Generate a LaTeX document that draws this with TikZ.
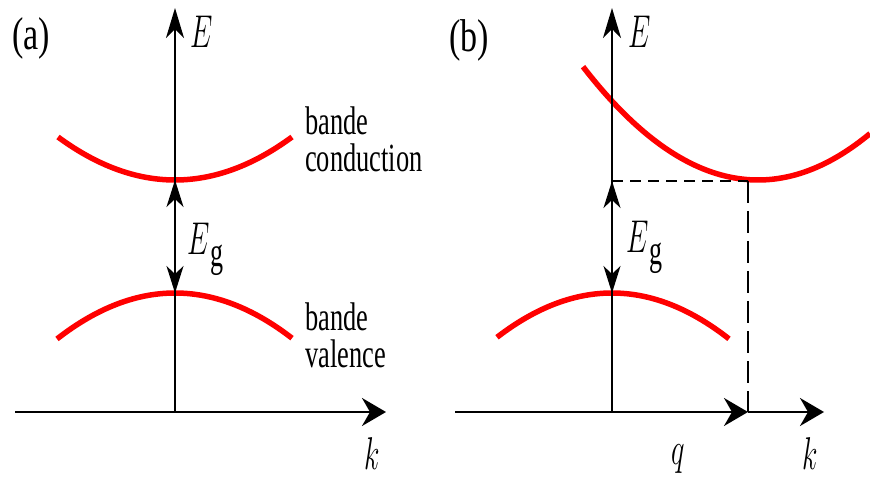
\documentclass[tikz,border=0pt]{standalone}
\usepackage{fix-cm}
\usepackage{fontspec}
\setmainfont{Liberation Serif}
\usepackage{graphicx}
\usetikzlibrary{arrows.meta}
\newcommand\sqtxt[1]{\scalebox{0.66}[1]{#1}}
\newcommand\sqpar[1]{\scalebox{0.74}[1]{#1}}
\newcommand\sqmath[1]{\scalebox{0.62}[1]{$#1$}}
\newcommand\gapsym{\scalebox{0.62}[1]{$E$\kern1pt\raisebox{-12pt}{\fontsize{42}{42}\selectfont g}}}
\begin{document}
\begin{tikzpicture}[x={(1pt,0)}, y={(0,-1pt)},
  haxis/.style={line width=2.2pt, black},
  vaxis/.style={line width=1.6pt, black},
  band/.style={red, line width=5.5pt},
  harrow/.style={-{Stealth[length=24pt,width=28pt,inset=8pt]}},
  varrow/.style={-{Stealth[length=30pt,width=18pt,inset=9pt]}},
  gaparrow/.style={{Stealth[length=27pt,width=17pt,inset=8pt]}-{Stealth[length=27pt,width=17pt,inset=8pt]}},
  hdash/.style={black, line width=2pt, dash pattern=on 11pt off 7pt},
  vdash/.style={black, line width=1.6pt, dash pattern=on 22pt off 8pt},
  lbl/.style={inner sep=0pt, anchor=base west, align=left, font=\fontsize{40}{37}\selectfont},
  plbl/.style={inner sep=0pt, anchor=base west, font=\fontsize{46}{46}\selectfont},
  mlbl/.style={inner sep=0pt, anchor=base west, font=\fontsize{46}{46}\selectfont},
]
\useasboundingbox (0,0) rectangle (870,478);

% ---------- panel (a) ----------
\coordinate (aO) at (175,412);
\coordinate (aTop) at (175,8);
\coordinate (aL) at (15,412);
\coordinate (aR) at (386,412);
\coordinate (aCmin) at (175,180);
\coordinate (aVmax) at (175,293);

\draw[band] plot[domain=58:292, samples=60] (\x, {180-0.314*((\x-175)/10)^2});
\draw[band] plot[domain=57:292, samples=60] (\x, {293+0.33*((\x-175)/10)^2});

\draw[haxis, harrow] (aL) -- (aR);
\draw[vaxis, varrow] (aO) -- (aTop);
\draw[vaxis, gaparrow] (aVmax) -- (aCmin);

\node[plbl] (la) at (12,50) {\sqpar{(a)}};
\node[mlbl] (Ea) at (190,48) {\sqmath{E}};
\node[mlbl] (Ega) at (187,255) {\gapsym};
\node[mlbl] (ka) at (364,469) {\sqmath{k}};
\node[lbl] (cb) at (305,172) {\sqtxt{bande}\\\sqtxt{conduction}};
\node[lbl] (vb) at (305,367) {\sqtxt{bande}\\\sqtxt{valence}};

% ---------- panel (b) ----------
\coordinate (bO) at (612,412);
\coordinate (bTop) at (612,8);
\coordinate (bL) at (455,412);
\coordinate (bQ) at (748,412);
\coordinate (bR) at (824,412);
\coordinate (bCmin) at (612,181);
\coordinate (bVmax) at (612,293);
\coordinate (bCorner) at (748,181);

\draw[band] plot[domain=583:870, samples=80] (\x, {180-0.37*((\x-758)/10)^2});
\draw[band] plot[domain=497:729, samples=60] (\x, {293+0.335*((\x-612)/10)^2});

\draw[hdash] (bCmin) -- (bCorner);
\draw[vdash] (bCorner) -- (bQ);

\draw[haxis, harrow] (bL) -- (bQ);
\draw[haxis, harrow] (bQ) -- (bR);
\draw[vaxis, varrow] (bO) -- (bTop);
\draw[vaxis, gaparrow] (bVmax) -- (bCmin);

\node[plbl] (lb) at (449,52) {\sqpar{(b)}};
\node[mlbl] (Eb) at (628,48) {\sqmath{E}};
\node[mlbl] (Egb) at (626,253) {\gapsym};
\node[mlbl] (qb) at (671,464) {\sqmath{q}};
\node[mlbl] (kb) at (802,469) {\sqmath{k}};
\end{tikzpicture}
\end{document}
